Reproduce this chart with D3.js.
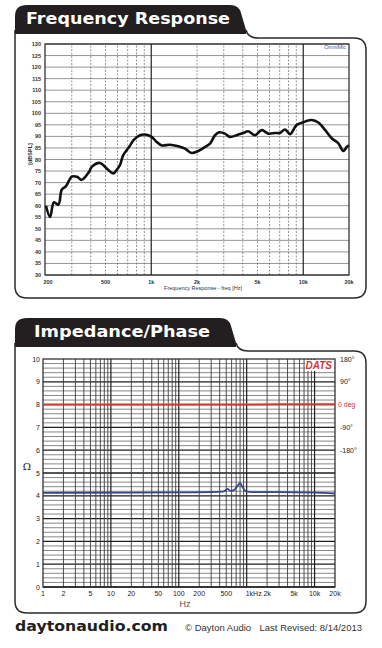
<!DOCTYPE html>
<html>
<head>
<meta charset="utf-8">
<script src="https://cdn.jsdelivr.net/npm/d3@7"></script>
<style>
  body { margin: 0; background: #fff; }
  text { font-family: "Liberation Sans", Arial, sans-serif; }
</style>
</head>
<body>
<div class="inner-content"></div>
<script>
// frequency response (OmniMic)
var frFreq = [203, 216, 229, 245, 258, 275, 300, 325, 349, 390, 406, 460, 509, 563, 593, 623, 652, 689, 725, 762,
  843, 910, 1006, 1086, 1172, 1328, 1506, 1668, 1846, 2040, 2258, 2436, 2627, 2805, 3058, 3298, 3648, 4034,
  4352, 4815, 5332, 5890, 6520, 7030, 7590, 8185, 9060, 10270, 11370, 12570, 13900, 15380, 17020, 18350, 19320, 20000];
var frDb = [60, 55.1, 61.5, 60.5, 67, 68.5, 72.6, 72.5, 71.2, 74.7, 76.8, 78.5, 76.1, 74, 75.5, 77.6, 81.7, 84, 86, 88.3,
  90.5, 90.8, 89.8, 87.6, 86.1, 86.4, 85.7, 84.7, 82.8, 83.7, 85.4, 86.9, 90.5, 91.8, 91.2, 89.8, 90.5, 91.5,
  92.2, 90.5, 92.7, 91.2, 91.5, 91.5, 93, 91, 95, 96.4, 97.1, 96, 92.8, 89.2, 87, 83.7, 85.4, 86.1];
var frTicks = [200, 500, 1000, 2000, 5000, 10000, 20000];
var frTickLabels = ["200", "500", "1k", "2k", "5k", "10k", "20k"];

// impedance / phase (DATS)
var impFreq = [1, 20, 100, 300, 450, 520, 580, 650, 720, 800, 880, 1000, 1200, 3000, 10000, 20000];
var impOhm = [4.13, 4.14, 4.15, 4.16, 4.18, 4.3, 4.22, 4.25, 4.4, 4.55, 4.35, 4.18, 4.16, 4.16, 4.14, 4.1];
var phFreq = [1, 100, 1000, 3000, 10000, 20000];
var phDeg = [0, 0, 0.5, 1.5, 1.5, 1.5];
var impTicks = [1, 2, 5, 10, 20, 50, 100, 200, 500, 1000, 2000, 5000, 10000, 20000];
var impTickLabels = ["1", "2", "5", "10", "20", "50", "100", "200", "500", "1kHz", "2k", "5k", "10k", "20k"];
var phaseTicks = [180, 90, 0, -90, -180];
var phaseLabels = ["180\u00b0", "90\u00b0", "0 deg", "-90\u00b0", "-180\u00b0"];

var svg = d3.select(".inner-content")
  .append("svg")
    .attr("width", 382)
    .attr("height", 648)
    .style("display", "block");

function panel(top, tabW, tabH, frameTop, bottom, title, titleX, titleW) {
  // frame
  svg.append("path")
    .attr("d", "M15," + (top + tabH - 4) + " V" + (bottom - 12) + " Q15," + bottom + " 27," + bottom +
      " H354 Q366," + bottom + " 366," + (bottom - 12) + " V" + (frameTop + 12) +
      " Q366," + frameTop + " 354," + frameTop + " H" + (tabW + 12) +
      " Q" + (tabW + 2) + "," + frameTop + " " + tabW + "," + (top + tabH - 4))
    .attr("fill", "none")
    .attr("stroke", "#2b2b2b")
    .attr("stroke-width", 1.5);
  svg.append("path")
    .attr("d", "M15," + (top + tabH) + " V" + (top + 11) + " Q15," + top + " 27," + top +
      " H" + (tabW - 16) + " Q" + (tabW - 7) + "," + top + " " + (tabW - 5) + "," + (top + 8) +
      " L" + tabW + "," + (top + tabH - 4) + " L" + tabW + "," + (top + tabH) + " Z")
    .attr("fill", "#231f20");
  svg.append("text")
    .attr("x", titleX)
    .attr("y", top + 19)
    .attr("fill", "#fff")
    .style("font-family", "'DejaVu Sans', sans-serif")
    .style("font-weight", "bold")
    .style("font-size", "16.5px")
    .attr("textLength", titleW)
    .attr("lengthAdjust", "spacingAndGlyphs")
    .text(title);
}

panel(5, 246, 29, 38, 298, "Frequency Response", 26, 204);
panel(318, 236, 29, 351, 613, "Impedance/Phase", 34, 176);

// ---------- frequency response ----------
var fx = d3.scaleLog().domain([200, 20000]).range([45, 349]);
var fy = d3.scaleLinear().domain([30, 130]).range([275, 44]);

var g1 = svg.append("g");
d3.range(30, 131, 5).forEach(function (v) {
  g1.append("line")
    .attr("x1", fx(200)).attr("x2", fx(20000))
    .attr("y1", fy(v)).attr("y2", fy(v))
    .attr("stroke", "#7a7a7a").attr("stroke-width", 0.8);
});
var frGrid = [];
[100, 1000, 10000].forEach(function (dec) {
  for (var k = 1; k < 10; k++) {
    var f = dec * k;
    if (f > 200 && f < 20000) frGrid.push(f);
  }
});
frGrid.forEach(function (f) {
  var major = (f === 1000 || f === 10000);
  g1.append("line")
    .attr("x1", fx(f)).attr("x2", fx(f))
    .attr("y1", fy(30)).attr("y2", fy(130))
    .attr("stroke", major ? "#222" : "#7a7a7a")
    .attr("stroke-width", major ? 1.2 : 0.8)
    .attr("stroke-dasharray", major ? null : "2,1.5");
});
g1.append("rect")
  .attr("x", fx(200)).attr("y", fy(130))
  .attr("width", fx(20000) - fx(200)).attr("height", fy(30) - fy(130))
  .attr("fill", "none").attr("stroke", "#222").attr("stroke-width", 1.2);

d3.range(30, 131, 5).forEach(function (v) {
  g1.append("text")
    .attr("x", 41).attr("y", fy(v) + 2)
    .attr("text-anchor", "end")
    .style("font-size", "5.5px").style("font-weight", "bold")
    .attr("fill", "#333")
    .text(v);
});
frTicks.forEach(function (f, i) {
  g1.append("text")
    .attr("x", fx(f) + (i === 0 ? 3 : 0)).attr("y", 284)
    .attr("text-anchor", "middle")
    .style("font-size", "5.5px").style("font-weight", "bold")
    .attr("fill", "#333")
    .text(frTickLabels[i]);
});
g1.append("text")
  .attr("x", 203).attr("y", 290)
  .attr("text-anchor", "middle")
  .style("font-size", "5.5px")
  .attr("fill", "#333")
  .text("Frequency Response - freq [Hz]");
g1.append("text")
  .attr("transform", "translate(32,154) rotate(-90)")
  .attr("text-anchor", "middle")
  .style("font-size", "5.5px").style("font-weight", "bold")
  .attr("fill", "#333")
  .text("[dBSPL]");
g1.append("text")
  .attr("x", 346).attr("y", 49)
  .attr("text-anchor", "end")
  .style("font-size", "5.5px").style("font-style", "italic")
  .attr("fill", "#3a55a0")
  .text("OmniMic");

var frLine = d3.line()
  .x(function (d, i) { return fx(frFreq[i]); })
  .y(function (d) { return fy(d); })
  .curve(d3.curveCatmullRom.alpha(0.5));
g1.append("path")
  .attr("d", frLine(frDb))
  .attr("fill", "none")
  .attr("stroke", "#111")
  .attr("stroke-width", 2.6)
  .attr("stroke-linejoin", "round");

// ---------- impedance / phase ----------
var ix = d3.scaleLog().domain([1, 20000]).range([43, 335]);
var iy = d3.scaleLinear().domain([0, 10]).range([587, 359]);
var py = d3.scaleLinear().domain([-180, 180]).range([iy(6), iy(10)]);

var g2 = svg.append("g");
d3.range(0, 50).forEach(function (k) {
  var v = k / 5;
  var major = k % 5 === 0;
  g2.append("line")
    .attr("x1", ix(1)).attr("x2", ix(20000))
    .attr("y1", iy(v)).attr("y2", iy(v))
    .attr("stroke", major ? "#1e1e1e" : "#6a6a6a")
    .attr("stroke-width", major ? 1.3 : 0.8);
});
var impGrid = [];
[1, 10, 100, 1000, 10000].forEach(function (dec) {
  for (var k = 1; k < 10; k++) {
    var f = dec * k;
    if (f > 1 && f < 20000) impGrid.push(f);
  }
});
impGrid.forEach(function (f) {
  var major = [10, 100, 1000, 10000].indexOf(f) >= 0;
  g2.append("line")
    .attr("x1", ix(f)).attr("x2", ix(f))
    .attr("y1", iy(0)).attr("y2", iy(10))
    .attr("stroke", major ? "#1e1e1e" : "#3c3c3c")
    .attr("stroke-width", major ? 1.2 : 0.9);
});
g2.append("rect")
  .attr("x", ix(1)).attr("y", iy(10))
  .attr("width", ix(20000) - ix(1)).attr("height", iy(0) - iy(10))
  .attr("fill", "none").attr("stroke", "#222").attr("stroke-width", 1.2);

d3.range(0, 11).forEach(function (v) {
  g2.append("text")
    .attr("x", 40).attr("y", iy(v) + 2.5)
    .attr("text-anchor", "end")
    .style("font-size", "7px")
    .attr("fill", "#222")
    .text(v);
});
impTicks.forEach(function (f, i) {
  g2.append("text")
    .attr("x", ix(f) + (i === 9 ? 7 : 0)).attr("y", 596)
    .attr("text-anchor", "middle")
    .style("font-size", "7px")
    .attr("fill", "#222")
    .text(impTickLabels[i]);
});
g2.append("text")
  .attr("x", 185).attr("y", 607)
  .attr("text-anchor", "middle")
  .style("font-size", "9px")
  .attr("fill", "#555")
  .text("Hz");
g2.append("text")
  .attr("x", 27).attr("y", 470)
  .attr("text-anchor", "middle")
  .style("font-family", "'DejaVu Serif', serif")
  .style("font-size", "10px")
  .attr("fill", "#222")
  .text("\u03a9");
phaseTicks.forEach(function (p, i) {
  g2.append("text")
    .attr("x", p === 0 ? 338 : 340).attr("y", py(p) + 2.5)
    .style("font-size", "7px")
    .attr("fill", p === 0 ? "#d8323a" : "#222")
    .text(phaseLabels[i]);
});

// DATS badge
g2.append("rect")
  .attr("x", 305).attr("y", 360)
  .attr("width", 29).attr("height", 11)
  .attr("fill", "#fff");
g2.append("text")
  .attr("x", 332).attr("y", 369)
  .attr("text-anchor", "end")
  .style("font-size", "10px").style("font-weight", "bold").style("font-style", "italic")
  .attr("fill", "#d8323a")
  .text("DATS");

var phLine = d3.line()
  .x(function (d, i) { return ix(phFreq[i]); })
  .y(function (d) { return py(d); })
  .curve(d3.curveMonotoneX);
g2.append("path")
  .attr("d", phLine(phDeg))
  .attr("fill", "none")
  .attr("stroke", "#e0322f")
  .attr("stroke-width", 2);

var impLine = d3.line()
  .x(function (d, i) { return ix(impFreq[i]); })
  .y(function (d) { return iy(d); })
  .curve(d3.curveMonotoneX);
g2.append("path")
  .attr("d", impLine(impOhm))
  .attr("fill", "none")
  .attr("stroke", "#34468f")
  .attr("stroke-width", 1.8);

// footer
svg.append("text")
  .attr("x", 15).attr("y", 631)
  .style("font-family", "'DejaVu Sans', sans-serif")
  .style("font-weight", "bold")
  .style("font-size", "14.5px")
  .attr("textLength", 153)
  .attr("lengthAdjust", "spacingAndGlyphs")
  .attr("fill", "#231f20")
  .text("daytonaudio.com");
svg.append("text")
  .attr("x", 185).attr("y", 631)
  .style("font-size", "9.5px")
  .attr("fill", "#333")
  .text("\u00a9 Dayton Audio");
svg.append("text")
  .attr("x", 362).attr("y", 631)
  .attr("text-anchor", "end")
  .style("font-size", "9.5px")
  .attr("fill", "#333")
  .text("Last Revised:  8/14/2013");
</script>
</body>
</html>
